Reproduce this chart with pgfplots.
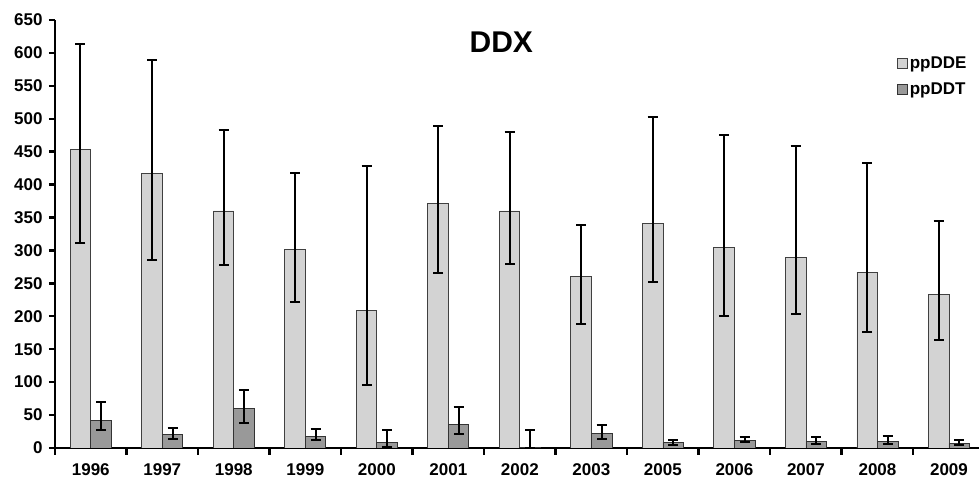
\documentclass[border=0pt]{standalone}
\usepackage{fontspec}
\setmainfont{Liberation Sans}
\usepackage{pgfplots}
\pgfplotsset{compat=1.18}
\definecolor{ddeFill}{RGB}{211,211,211}
\definecolor{ddtFill}{RGB}{153,153,153}
\pgfplotsset{sqlegend/.style={legend image code/.code={\draw[#1,line width=0.8pt] (0pt,-5pt) rectangle (10pt,5pt);}}}
\begin{document}
\begin{tikzpicture}
\begin{axis}[
  scale only axis, width=924pt, height=428pt,
  ybar, bar width=0.287,
  xmin=-0.5, xmax=12.42, ymin=0, ymax=650,
  axis x line=bottom, axis y line=left,
  axis line style={line width=2.4pt,-},
  tick align=outside,
  xtick={0,...,12},
  xticklabels={1996,1997,1998,1999,2000,2001,2002,2003,2005,2006,2007,2008,2009},
  minor xtick={-0.5,0.5,...,11.5},
  major x tick style={draw=none},
  minor x tick style={line width=2.4pt,black},
  minor tick length=7pt,
  ytick={0,50,...,650},
  major y tick style={line width=2.4pt,black},
  major tick length=6pt,
  ticklabel style={font=\bfseries\fontsize{17}{17}\selectfont},
  /pgf/number format/assume math mode=true,
  /pgf/number format/1000 sep={},
  xticklabel style={yshift=-6pt},
  yticklabel style={xshift=-3pt},
  title={DDX},
  title style={font=\bfseries\fontsize{30}{30}\selectfont, at={(axis description cs:0.483,0.934)}, anchor=center},
  legend style={at={(axis description cs:0.911,0.918)}, anchor=north west, draw=none, fill=none,
    font=\bfseries\fontsize{17}{17}\selectfont, row sep=8pt, inner sep=0pt},
  legend cell align=left,
  error bars/y dir=both, error bars/y explicit,
  error bars/error bar style={line width=2pt,black},
  error bars/error mark options={rotate=90,mark size=5pt,line width=2pt,black},
]
\addplot[fill=ddeFill, draw=black!75, line width=0.8pt, bar shift=-0.1435, sqlegend] coordinates {
 (0,454) += (0,160) -= (0,142)
 (1,417) += (0,172) -= (0,131)
 (2,360) += (0,123) -= (0,82)
 (3,301.5) += (0,115.5) -= (0,80)
 (4,209) += (0,219) -= (0,113)
 (5,372) += (0,117) -= (0,107)
 (6,360) += (0,120) -= (0,81)
 (7,260.5) += (0,77.5) -= (0,72.5)
 (8,341) += (0,161) -= (0,89)
 (9,305) += (0,171) -= (0,105)
 (10,290) += (0,169) -= (0,86)
 (11,267) += (0,166.5) -= (0,90.5)
 (12,233) += (0,112) -= (0,69)
};
\addlegendentry{ppDDE}
\addplot[fill=ddtFill, draw=black!80, line width=0.8pt, bar shift=0.1435, sqlegend] coordinates {
 (0,41.5) += (0,28.5) -= (0,14.5)
 (1,21) += (0,9) -= (0,8)
 (2,60) += (0,28) -= (0,22)
 (3,17) += (0,12) -= (0,5)
 (4,8.6) += (0,18.4) -= (0,7)
 (5,36) += (0,26) -= (0,15)
 (6,1) += (0,26) -= (0,1)
 (7,22) += (0,13) -= (0,8.4)
 (8,8.6) += (0,3.1) -= (0,3.6)
 (9,11.7) += (0,5.3) -= (0,3.1)
 (10,10) += (0,6.7) -= (0,3.5)
 (11,10) += (0,8.7) -= (0,3.5)
 (12,7) += (0,4.7) -= (0,3)
};
\addlegendentry{ppDDT}
\end{axis}
\pgfresetboundingbox
\path ([xshift=-55pt,yshift=-30pt]current axis.south west) rectangle ([yshift=20pt]current axis.north east);
\end{tikzpicture}
\end{document}
